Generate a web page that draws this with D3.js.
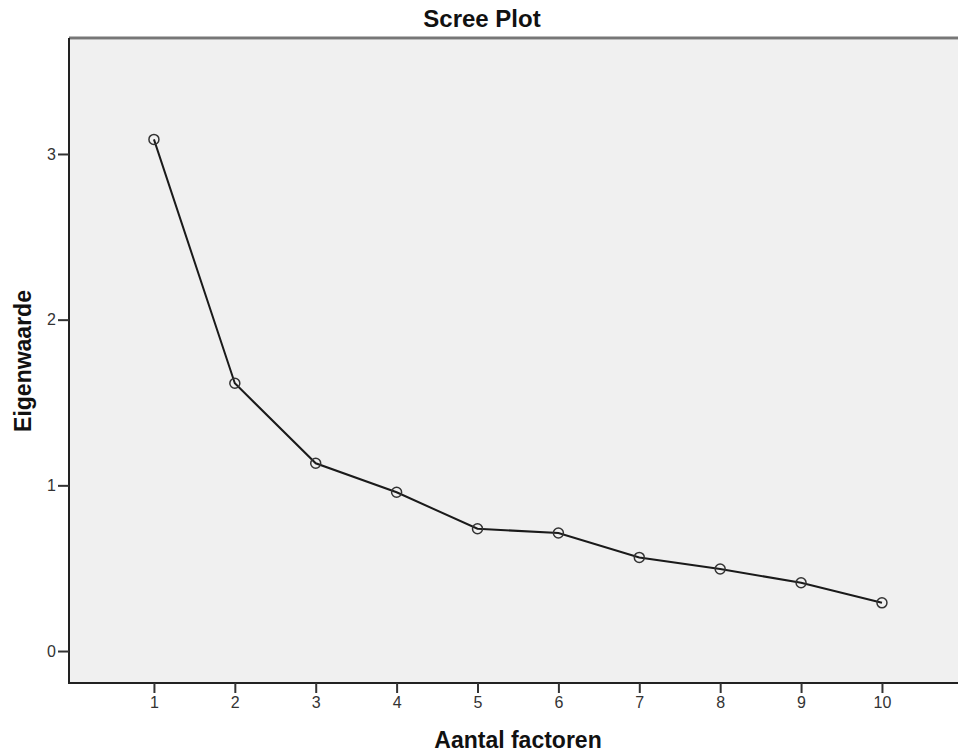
<!DOCTYPE html>
<html>
<head>
<meta charset="utf-8">
<script src="https://cdn.jsdelivr.net/npm/d3@7"></script>
<style>
  body { margin: 0; background: #fff; }
  text { font-family: "Liberation Sans", Arial, sans-serif; }
</style>
</head>
<body>
<div id="chart"></div>
<script>
const factors = [1, 2, 3, 4, 5, 6, 7, 8, 9, 10];
const eigenvalues = [3.088, 1.616, 1.133, 0.958, 0.738, 0.712, 0.565, 0.495, 0.412, 0.291];
const yTicks = [0, 1, 2, 3];

const chartWidth = 958;
const chartHeight = 755;
const plotLeft = 69, plotRight = 958, plotTop = 38, plotBottom = 683;

// scales
const xScale = d3.scaleLinear()
  .domain([-0.05, 10.94])
  .range([plotLeft, plotRight]);

const yScale = d3.scaleLinear()
  .domain([-0.193, 3.7])
  .range([plotBottom, plotTop]);

const chart = d3.select('#chart')
  .append('svg')
  .attr('width', chartWidth)
  .attr('height', chartHeight);

// plot background
chart.append('rect')
  .attr('x', plotLeft)
  .attr('y', plotTop)
  .attr('width', plotRight - plotLeft)
  .attr('height', plotBottom - plotTop)
  .attr('fill', '#f0f0f0');

// top frame line (soft grey band)
chart.append('line')
  .attr('x1', plotLeft).attr('x2', plotRight)
  .attr('y1', plotTop).attr('y2', plotTop)
  .attr('stroke', '#bbb')
  .attr('stroke-width', 4);
chart.append('line')
  .attr('x1', plotLeft).attr('x2', plotRight)
  .attr('y1', plotTop).attr('y2', plotTop)
  .attr('stroke', '#777')
  .attr('stroke-width', 2);

// axes
const xAxis = d3.axisBottom(xScale)
  .tickValues(factors)
  .tickSize(10)
  .tickPadding(4)
  .tickFormat(d3.format('d'));
const gx = chart.append('g')
  .attr('class', 'x-axis')
  .attr('transform', `translate(0, ${plotBottom})`)
  .call(xAxis);

const yAxis = d3.axisLeft(yScale)
  .tickValues(yTicks)
  .tickSize(11)
  .tickPadding(2)
  .tickFormat(d3.format('d'));
const gy = chart.append('g')
  .attr('class', 'y-axis')
  .attr('transform', `translate(${plotLeft}, 0)`)
  .call(yAxis);

[gx, gy].forEach(g => {
  g.attr('font-size', 16).attr('font-family', '"Liberation Sans", Arial, sans-serif');
  g.select('.domain').attr('stroke', '#222').attr('stroke-width', 2);
  g.selectAll('.tick line').attr('stroke', '#333').attr('stroke-width', 2);
  g.selectAll('.tick text').attr('fill', '#333');
});
gx.select('.domain').attr('d', `M${plotLeft},0H${plotRight}`);
gy.select('.domain').attr('d', `M0,${plotTop}V${plotBottom + 1}`);

// line
const line = d3.line()
  .x((d, i) => xScale(factors[i]))
  .y(d => yScale(d));

chart.append('path')
  .datum(eigenvalues)
  .attr('d', line)
  .attr('fill', 'none')
  .attr('stroke', '#1a1a1a')
  .attr('stroke-width', 2);

// points
chart.selectAll('circle.pt')
  .data(eigenvalues)
  .enter()
  .append('circle')
  .attr('class', 'pt')
  .attr('cx', (d, i) => xScale(factors[i]))
  .attr('cy', d => yScale(d))
  .attr('r', 5)
  .attr('fill', 'none')
  .attr('stroke', '#333')
  .attr('stroke-width', 1.5);

// titles
chart.append('text')
  .text('Scree Plot')
  .attr('x', 482)
  .attr('y', 27)
  .attr('text-anchor', 'middle')
  .style('font-size', '24px')
  .style('font-weight', 'bold')
  .attr('fill', '#111');

chart.append('text')
  .text('Aantal factoren')
  .attr('x', 518)
  .attr('y', 748)
  .attr('text-anchor', 'middle')
  .style('font-size', '23px')
  .style('font-weight', 'bold')
  .attr('fill', '#111');

chart.append('text')
  .text('Eigenwaarde')
  .attr('transform', 'translate(31, 361) rotate(-90)')
  .attr('text-anchor', 'middle')
  .style('font-size', '23px')
  .style('font-weight', 'bold')
  .attr('fill', '#111');
</script>
</body>
</html>
